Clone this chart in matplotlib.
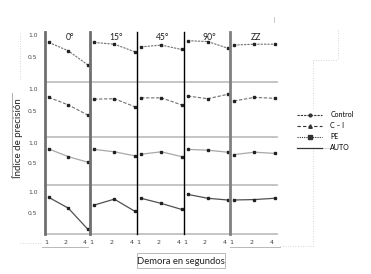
import matplotlib
matplotlib.use("Agg")
import matplotlib.pyplot as plt
from matplotlib.lines import Line2D
from matplotlib.patches import Rectangle
from matplotlib.transforms import ScaledTranslation
import numpy as np

# ---------------- data ----------------
delays = [1, 2, 4]
angles = ["0°", "15°", "45°", "90°", "ZZ"]
groups = ["Control", "C – I", "PE", "AUTO"]
control = [[0.83, 0.64, 0.32], [0.83, 0.79, 0.62], [0.73, 0.77, 0.67],
           [0.87, 0.85, 0.70], [0.77, 0.79, 0.79]]
ci = [[0.81, 0.64, 0.41], [0.77, 0.78, 0.60], [0.80, 0.80, 0.64],
      [0.84, 0.78, 0.88], [0.73, 0.81, 0.79]]
pe = [[0.85, 0.66, 0.52], [0.84, 0.78, 0.68], [0.72, 0.78, 0.66],
      [0.84, 0.82, 0.77], [0.71, 0.77, 0.74]]
auto = [[0.87, 0.62, 0.13], [0.69, 0.83, 0.55], [0.85, 0.73, 0.59],
        [0.94, 0.85, 0.81], [0.81, 0.82, 0.85]]
yticks = [0.5, 1.0]
ytick_labels = ["0.5", "1.0"]
xlabel = "Demora en segundos"
ylabel = "Índice de precisión"

series = [control, ci, pe, auto]

# ---------------- layout (pixels) ----------------
W, H = 371, 274
fig = plt.figure(figsize=(W / 100, H / 100), dpi=100)
plt.rcParams['font.family'] = ['Lato', 'DejaVu Sans']

col_edges = [45, 90, 137, 184, 230, 277]
row_edges = [33, 82, 137, 185, 234]
row_ylims = [(-0.07, 1.045), (-0.09, 1.16), (-0.05, 1.15), (0.016, 1.16)]

styles = [
    dict(color='#707070', lw=0.8, ls=(0, (2, 1))),
    dict(color='#707070', lw=0.8, ls=(0, (3, 1.5))),
    dict(color='#a8a8a8', lw=0.9, ls='-'),
    dict(color='#505050', lw=0.9, ls='-'),
]
mk = dict(marker='s', ms=1.6, mfc='#222222', mec='#222222')


def fx(x):
    return x / W


def fy(y):
    return 1 - y / H


xpos = np.arange(len(delays))
for r in range(4):
    for c in range(5):
        x0, x1 = col_edges[c], col_edges[c + 1]
        y0, y1 = row_edges[r], row_edges[r + 1]
        ax = fig.add_axes([fx(x0), fy(y1), (x1 - x0) / W, (y1 - y0) / H])
        ax.patch.set_alpha(0)
        ax.plot(xpos, series[r][c], **styles[r], **mk)
        ax.set_xlim(-0.2, 2.12)
        ax.set_ylim(*row_ylims[r])
        for s in ax.spines.values():
            s.set_visible(False)
        ax.set_yticks([])
        if c == 0:
            ax.set_yticks(yticks)
            ax.set_yticklabels(ytick_labels, fontsize=4.3, color='#444444',
                               family='DejaVu Sans')
            ax.tick_params(axis='y', length=0, pad=5.5)
        if r == 3:
            ax.set_xticks(xpos)
            ax.set_xticklabels([str(d) for d in delays], fontsize=4.6,
                               color='#444444', family='DejaVu Sans')
            ax.tick_params(axis='x', length=0, pad=4)
            off = ScaledTranslation(-3 / 100, 0, fig.dpi_scale_trans)
            for lab in ax.get_xticklabels():
                lab.set_transform(lab.get_transform() + off)
        else:
            ax.set_xticks([])
        if r == 0:
            ax.text(0.55, 1.0 - 0.5 / 49, angles[c], transform=ax.transAxes,
                    ha='center', va='top', fontsize=6.2, color='#222222')

# horizontal separators
for y in row_edges[1:]:
    fig.add_artist(Line2D([fx(45), fx(277)], [fy(y), fy(y)],
                          color='#c0c0c0', lw=1.3))
# vertical separators
for x, col, lw in [(45, '#707070', 2.0), (90, '#707070', 2.0),
                   (137, '#000000', 1.0), (184, '#000000', 1.0),
                   (230, '#808080', 2.0)]:
    fig.add_artist(Line2D([fx(x), fx(x)], [fy(32), fy(234)], color=col, lw=lw))

# axis labels
fig.text(fx(18), fy(138), ylabel, rotation=90, ha='center', va='center',
         fontsize=7, color='#222222')
fig.add_artist(Line2D([fx(12), fx(12)], [fy(93), fy(178)], color='#b0b0b0', lw=0.7))
fig.text(fx(181), fy(261), xlabel, ha='center', va='center', fontsize=6.8,
         color='#222222')
fig.add_artist(Rectangle((fx(137), fy(268)), (225 - 137) / W, 15 / H,
                         transform=fig.transFigure, fill=False,
                         ec='#b8b8b8', lw=0.7))

# decorative scan lines
dot = dict(color='#c8c8c8', lw=0.6, ls=(0, (1, 2)))
fig.add_artist(Line2D([fx(20), fx(42)], [fy(243), fy(243)], **dot))
fig.add_artist(Line2D([fx(42), fx(88)], [fy(247), fy(247)], color='#b8b8b8', lw=0.7))
fig.add_artist(Line2D([fx(230), fx(280)], [fy(247), fy(247)], color='#b8b8b8', lw=0.7))
fig.add_artist(Line2D([fx(280), fx(313)], [fy(246), fy(246)], **dot))
fig.add_artist(Line2D([fx(313), fx(313)], [fy(148), fy(246)], **dot))
fig.add_artist(Line2D([fx(313), fx(333)], [fy(148), fy(148)], color='#d0d0d0', lw=0.6))
fig.add_artist(Line2D([fx(313), fx(313)], [fy(60), fy(108)], **dot))
fig.add_artist(Line2D([fx(313), fx(338)], [fy(60), fy(60)], **dot))
fig.add_artist(Line2D([fx(338), fx(338)], [fy(30), fy(60)], **dot))
fig.add_artist(Line2D([fx(20), fx(20)], [fy(33), fy(80)], **dot))
fig.add_artist(Line2D([fx(274), fx(274)], [fy(17), fy(22)], color='#c0c0c0', lw=0.6))

# legend
handles = [
    Line2D([], [], color='#333333', lw=0.8, ls=(0, (2, 1)), marker='o', ms=2),
    Line2D([], [], color='#333333', lw=0.8, ls=(0, (3, 2)), marker='^', ms=2.5),
    Line2D([], [], color='#333333', lw=0.8, ls=(0, (1, 1)), marker='s', ms=2.5),
    Line2D([], [], color='#333333', lw=0.9, ls='-'),
]
fig.legend(handles, groups, loc='upper left',
           bbox_to_anchor=(fx(297), fy(111)), frameon=False, fontsize=5,
           handlelength=3.6, handletextpad=1.2, labelspacing=0.58,
           borderpad=0, borderaxespad=0)

fig.savefig("out.png", dpi=100)
